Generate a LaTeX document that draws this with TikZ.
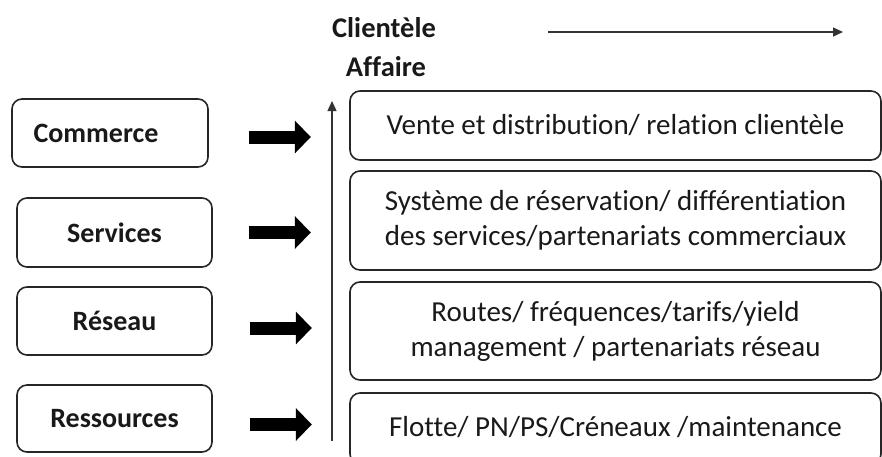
\documentclass[tikz,border=0pt]{standalone}
\usepackage{fontspec}
\setmainfont[Ligatures=NoCommon]{Carlito}
\usetikzlibrary{arrows.meta,calc}
\begin{document}
\begin{tikzpicture}[x=1pt,y=-1pt,
 leftbox/.style={draw=black!85, line width=1.6pt, rounded corners=10pt, minimum height=68pt, minimum width=195pt, inner sep=0pt, text=black!90, font=\fontsize{28}{32}\selectfont\bfseries},
 rightbox/.style={draw=black!85, line width=1.6pt, rounded corners=10pt, minimum width=531pt, inner sep=0pt, align=center, text=black!90, font=\fontsize{29}{35}\selectfont},
 bigarrow/.style={line width=13pt, black, -{Triangle[length=16pt,width=32pt]}},
 thinarrow/.style={line width=1.3pt, black!80, -{Triangle[length=10pt,width=9pt]}},
 toplabel/.style={inner sep=0pt, text=black!90, font=\fontsize{28.5}{32}\selectfont\bfseries}]
\useasboundingbox (0,0) rectangle (882,456);
% left boxes
\node[leftbox, minimum width=196pt] (commerce) at (110,133) {Commerce\hspace*{28pt}};
\node[leftbox, minimum height=69pt] (services) at (114.5,232.5) {Services};
\node[leftbox] (reseau) at (114.5,321) {Réseau};
\node[leftbox, minimum height=67pt] (ressources) at (114.5,418.5) {Ressources};
% right boxes
\node[rightbox, minimum height=69pt] (vente) at (615.5,125.5) {Vente et distribution/ relation clientèle};
\node[rightbox, minimum height=99pt] (systeme) at (615.5,220.5) {Système de réservation/ différentiation\\des services/partenariats commerciaux};
\node[rightbox, minimum height=98pt] (routes) at (615.5,331) {Routes/ fréquences/tarifs/yield\\management / partenariats réseau};
\node[rightbox, minimum height=71pt] (flotte) at (615.5,428.5) {\raisebox{4pt}{Flotte/ PN/PS/Créneaux /maintenance}};
% top labels
\node[toplabel] (clientele) at (384,28) {Clientèle};
\node[toplabel] (affaire) at (386,67) {Affaire};
% axes
\coordinate (vbot) at (332,441);
\coordinate (vtop) at (332,101);
\draw[thinarrow] (vbot) -- (vtop);
\coordinate (hstart) at (548,32);
\coordinate (hend) at (843,32);
\draw[thinarrow] (hstart) -- (hend);
% thick arrows
\draw[bigarrow] ($(commerce.east)+(40,4)$) -- ($(commerce.east)+(102,4)$);
\draw[bigarrow] ($(services.east)+(36,0)$) -- ($(services.east)+(98,0)$);
\draw[bigarrow] ($(reseau.east)+(37,7)$) -- ($(reseau.east)+(99,7)$);
\draw[bigarrow] ($(ressources.east)+(37,6)$) -- ($(ressources.east)+(99,6)$);
\end{tikzpicture}
\end{document}
